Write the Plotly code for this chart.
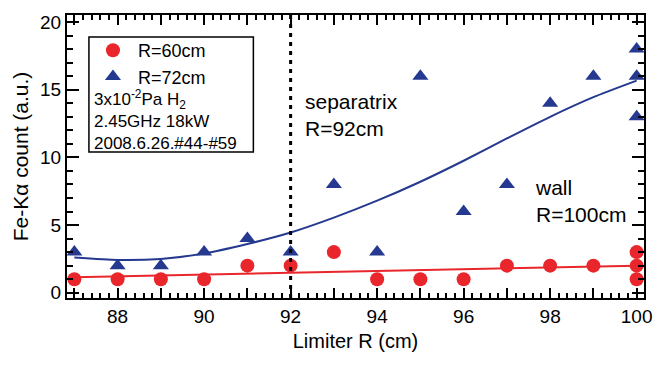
import numpy as np
import plotly.graph_objects as go

# Data
limiter_r = [87, 88, 89, 90, 91, 92, 93, 94, 95, 96, 97, 98, 99, 100, 100, 100]
count_r60 = [1, 1, 1, 1, 2, 2, 3, 1, 1, 1, 2, 2, 2, 3, 2, 1]
count_r72 = [3, 2, 2, 3, 4, 3, 8, 3, 16, 6, 8, 14, 16, 18, 16, 13]
# fitted curve for R=72cm
fit72_x = [87, 88, 89, 90, 91, 92, 93, 94, 95, 96, 97, 98, 99, 100]
fit72_y = [2.6, 2.42, 2.5, 2.9, 3.6, 4.45, 5.55, 6.8, 8.2, 9.75, 11.4, 13.0, 14.45, 15.67]
x_ticks = [88, 90, 92, 94, 96, 98, 100]
y_ticks = [0, 5, 10, 15, 20]
separatrix_r = 92

RED = "#e8262b"
BLUE = "#24398f"
FONT = "Liberation Sans"

x = np.array(limiter_r, dtype=float)
xfit = np.linspace(min(limiter_r), max(limiter_r), 100)
fit60 = np.polyval(np.polyfit(x, np.array(count_r60, float), 1), xfit)

fig = go.Figure()
fig.add_trace(go.Scatter(x=xfit, y=fit60, mode="lines", line=dict(color=RED, width=2),
                         showlegend=False, hoverinfo="skip"))
fig.add_trace(go.Scatter(x=fit72_x, y=fit72_y, mode="lines",
                         line=dict(color=BLUE, width=2, shape="spline", smoothing=0.6),
                         showlegend=False, hoverinfo="skip"))
fig.add_trace(go.Scatter(x=limiter_r, y=count_r60, mode="markers", name=" R=60cm",
                         marker=dict(symbol="circle", size=14, color=RED)))
fig.add_trace(go.Scatter(x=limiter_r, y=count_r72, mode="markers", name=" R=72cm",
                         marker=dict(symbol="triangle-up", size=14, color=BLUE)))

# separatrix line
fig.add_shape(type="line", xref="x", yref="paper", x0=separatrix_r, x1=separatrix_r, y0=0, y1=1,
              line=dict(color="black", width=3, dash="4px,5px"))
# legend box
fig.add_shape(type="rect", xref="paper", yref="paper", x0=0.038, x1=0.323, y0=0.516, y1=0.922,
              line=dict(color="black", width=1.5), fillcolor="white", layer="below")

fig.add_annotation(xref="paper", yref="paper", x=0.043, y=0.752, xanchor="left", yanchor="top",
                   align="left", showarrow=False,
                   text="3x10<sup>-2</sup>Pa H<sub>2</sub><br>2.45GHz 18kW<br>2008.6.26.#44-#59",
                   font=dict(family=FONT, size=17, color="black"))
fig.add_annotation(xref="x", yref="y", x=92.28, y=13.1, xanchor="left", yanchor="middle",
                   align="left", showarrow=False, text="separatrix<br>R=92cm",
                   font=dict(family=FONT, size=21, color="black"))
fig.add_annotation(xref="x", yref="y", x=97.6, y=6.8, xanchor="left", yanchor="middle",
                   align="left", showarrow=False, text="wall<br>R=100cm",
                   font=dict(family=FONT, size=21, color="black"))

axis_common = dict(showline=True, linecolor="black", linewidth=2, mirror="allticks",
                   ticks="inside", tickcolor="black", tickwidth=1.5, showgrid=False,
                   zeroline=False, automargin=False,
                   tickfont=dict(family=FONT, size=19, color="black"))

fig.update_xaxes(range=[86.83, 100.17], tickmode="array",
                 tickvals=list(range(87, 101)),
                 ticktext=[str(v) if v in x_ticks else "" for v in range(87, 101)],
                 ticklen=10,
                 minor=dict(dtick=0.2, ticks="inside", ticklen=5, tickcolor="black", tickwidth=1.5),
                 title=dict(text="Limiter R (cm)", font=dict(family=FONT, size=20, color="black"),
                            standoff=8),
                 **axis_common)
fig.update_yaxes(range=[-0.39, 20.52], tickmode="array", tickvals=y_ticks,
                 ticktext=[str(v) for v in y_ticks], ticklen=12,
                 minor=dict(dtick=1, ticks="inside", ticklen=6, tickcolor="black", tickwidth=1.5),
                 title=dict(text="Fe-Kα count (a.u.)", font=dict(family=FONT, size=21, color="black"),
                            standoff=6),
                 **axis_common)

fig.update_layout(width=657, height=367, margin=dict(l=67, r=13, t=15, b=69),
                  plot_bgcolor="white", paper_bgcolor="white",
                  legend=dict(x=0.045, y=0.94, xanchor="left", yanchor="top",
                              bgcolor="rgba(0,0,0,0)", font=dict(family=FONT, size=18, color="black"),
                              tracegroupgap=0, itemwidth=30),
                  showlegend=True)

fig.write_html("out.html", config={"displayModeBar": False},
               post_script="document.body.style.margin='0';document.body.style.overflow='hidden';")
